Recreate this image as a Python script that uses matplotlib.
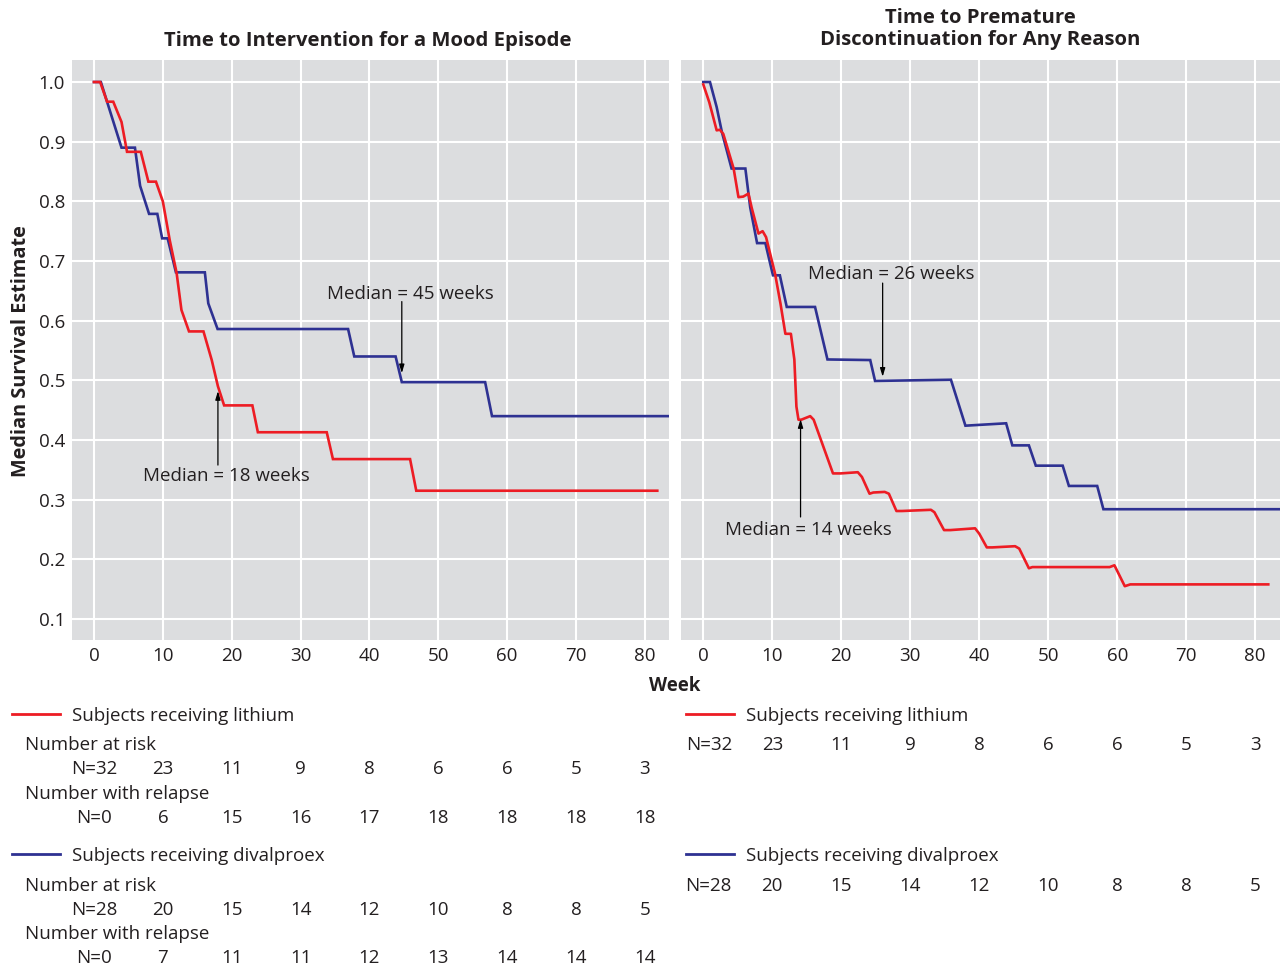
import matplotlib
matplotlib.use("Agg")
import matplotlib.pyplot as plt
import matplotlib.transforms as mtransforms

plt.rcParams['font.family'] = ['Open Sans', 'DejaVu Sans']

# ---------------- data ----------------
weeks_ticks = [0, 10, 20, 30, 40, 50, 60, 70, 80]
yticks = [0.1, 0.2, 0.3, 0.4, 0.5, 0.6, 0.7, 0.8, 0.9, 1.0]

# Left panel: time to intervention for a mood episode
li_mood_w = [0, 0.9, 1.9, 2.8, 4.0, 4.8, 6.8, 7.9, 9.0, 10.0, 11.0, 12.0, 12.7, 13.8,
             15.9, 17.1, 18.0, 18.9, 23.0, 23.8, 33.8, 34.7, 45.9, 46.8, 81.8]
li_mood_s = [1.0, 1.0, 0.967, 0.967, 0.933, 0.883, 0.883, 0.833, 0.833, 0.8, 0.735, 0.68,
             0.618, 0.582, 0.582, 0.534, 0.49, 0.458, 0.458, 0.413, 0.413, 0.368, 0.368,
             0.315, 0.315]
dv_mood_w = [0, 1.0, 4.0, 5.95, 6.7, 8.0, 9.2, 9.9, 10.7, 11.9, 16.1, 16.6, 17.95, 36.9,
             37.8, 43.8, 44.7, 56.8, 57.8, 83.5]
dv_mood_s = [1.0, 1.0, 0.89, 0.89, 0.826, 0.779, 0.779, 0.738, 0.738, 0.681, 0.681, 0.629,
             0.586, 0.586, 0.540, 0.540, 0.497, 0.497, 0.440, 0.440]

# Right panel: time to premature discontinuation
li_disc_w = [0, 0.87, 1.94, 2.4, 2.9, 4.4, 5.1, 5.8, 6.55, 7.0, 8.0, 8.6, 9.1, 10.4, 11.2,
             11.9, 12.7, 13.2, 13.5, 13.8, 14.2, 15.5, 16.0, 17.4, 18.8, 19.9, 22.4, 23.0,
             24.1, 24.65, 26.3, 26.9, 28.0, 28.8, 33.0, 33.5, 34.9, 35.8, 39.4, 40.0, 41.1,
             41.9, 45.2, 45.8, 47.2, 47.7, 58.9, 59.6, 60.2, 61.1, 61.9, 81.9]
li_disc_s = [0.996, 0.966, 0.919, 0.92, 0.913, 0.855, 0.807, 0.808, 0.813, 0.79, 0.746,
             0.75, 0.74, 0.679, 0.628, 0.578, 0.578, 0.535, 0.456, 0.434, 0.434, 0.44,
             0.434, 0.389, 0.344, 0.344, 0.346, 0.338, 0.31, 0.312, 0.313, 0.31, 0.281,
             0.281, 0.283, 0.279, 0.249, 0.249, 0.252, 0.243, 0.22, 0.22, 0.222, 0.218,
             0.185, 0.187, 0.187, 0.19, 0.176, 0.155, 0.158, 0.158]
dv_disc_w = [0, 0.97, 1.94, 2.7, 4.1, 6.1, 6.8, 7.8, 9.0, 10.1, 11.1, 12.1, 16.2, 18.0,
             24.2, 24.9, 35.9, 38.0, 43.9, 44.8, 47.2, 48.2, 52.1, 53.0, 57.1, 58.0, 83.6]
dv_disc_s = [1.0, 1.0, 0.958, 0.916, 0.855, 0.855, 0.79, 0.73, 0.73, 0.676, 0.676, 0.623,
             0.623, 0.535, 0.534, 0.499, 0.501, 0.424, 0.428, 0.391, 0.391, 0.357, 0.357,
             0.323, 0.323, 0.284, 0.284]

# Numbers table
li_risk = ["N=32", "23", "11", "9", "8", "6", "6", "5", "3"]
li_relapse = ["N=0", "6", "15", "16", "17", "18", "18", "18", "18"]
dv_risk = ["N=28", "20", "15", "14", "12", "10", "8", "8", "5"]
dv_relapse = ["N=0", "7", "11", "11", "12", "13", "14", "14", "14"]

# medians
median_mood = {"lithium": 18, "divalproex": 45}
median_disc = {"lithium": 14, "divalproex": 26}

# ---------------- style ----------------
RED = "#ed1c24"
BLUE = "#2e3192"
BG = "#dcdddf"
TXT = "#231f20"
FS = 13.5
FS_T = 14.6

fig = plt.figure(figsize=(12.8, 9.68), dpi=100)
W, H = 1280, 968


def ax_rect(x0, x1, y0, y1):
    return [x0 / W, 1 - y1 / H, (x1 - x0) / W, (y1 - y0) / H]


axL = fig.add_axes(ax_rect(72, 669, 60, 640))
axR = fig.add_axes(ax_rect(681, 1280, 60, 640))

for ax, xl in ((axL, (-3.19, 83.5)), (axR, (-3.23, 83.6))):
    ax.set_facecolor(BG)
    ax.set_xlim(*xl)
    ax.set_ylim(0.0648, 1.0369)
    ax.set_xticks(weeks_ticks)
    ax.set_yticks(yticks)
    ax.grid(True, color="white", linewidth=1.5)
    ax.set_axisbelow(True)
    for s in ax.spines.values():
        s.set_visible(False)
    ax.tick_params(length=0, labelsize=FS, labelcolor=TXT, pad=5)

axL.set_yticklabels([f"{v:.1f}" for v in yticks])
axR.set_yticklabels([])

lw = 1.9
axL.plot(dv_mood_w, dv_mood_s, color=BLUE, lw=lw, solid_joinstyle="miter")
axL.plot(li_mood_w, li_mood_s, color=RED, lw=lw, solid_joinstyle="miter")
axR.plot(dv_disc_w, dv_disc_s, color=BLUE, lw=lw, solid_joinstyle="miter")
axR.plot(li_disc_w, li_disc_s, color=RED, lw=lw, solid_joinstyle="round")

arrow = dict(arrowstyle="-|>,head_length=0.5,head_width=0.15", color="black", lw=0.9,
             shrinkA=0, shrinkB=0)

# annotations
axL.annotate("", xy=(median_mood["divalproex"] - 0.3, 0.512),
             xytext=(median_mood["divalproex"] - 0.3, 0.632), arrowprops=arrow)
axL.text(46.0, 0.645, f"Median = {median_mood['divalproex']} weeks", ha="center", va="center",
         fontsize=FS, color=TXT)
axL.annotate("", xy=(median_mood["lithium"], 0.482),
             xytext=(median_mood["lithium"], 0.358), arrowprops=arrow)
axL.text(19.2, 0.339, f"Median = {median_mood['lithium']} weeks", ha="center", va="center",
         fontsize=FS, color=TXT)

axR.annotate("", xy=(median_disc["divalproex"], 0.506),
             xytext=(median_disc["divalproex"], 0.663), arrowprops=arrow)
axR.text(27.3, 0.678, f"Median = {median_disc['divalproex']} weeks", ha="center", va="center",
         fontsize=FS, color=TXT)
axR.annotate("", xy=(median_disc["lithium"] + 0.1, 0.435),
             xytext=(median_disc["lithium"] + 0.1, 0.271), arrowprops=arrow)
axR.text(15.3, 0.250, f"Median = {median_disc['lithium']} weeks", ha="center", va="center",
         fontsize=FS, color=TXT)

# titles and labels
fig.text(368 / W, 1 - 41 / H, "Time to Intervention for a Mood Episode", ha="center",
         va="center", fontsize=FS_T, fontweight="bold", color=TXT)
fig.text(980 / W, 1 - 29 / H, "Time to Premature\nDiscontinuation for Any Reason", ha="center",
         va="center", fontsize=FS_T, fontweight="bold", color=TXT, linespacing=1.15)
fig.text(21 / W, 1 - 351 / H, "Median Survival Estimate", rotation=90, ha="center", va="center",
         fontsize=14.3, fontweight="bold", color=TXT)
fig.text(675 / W, 1 - 686 / H, "Week", ha="center", va="center", fontsize=FS,
         fontweight="bold", color=TXT)


# ---------------- number-at-risk table ----------------
def fy(py):
    return 1 - (py + 2) / H


def row_values(ax, vals, py, first_shift=0.0):
    tr = mtransforms.blended_transform_factory(ax.transData, fig.transFigure)
    for i, (w, v) in enumerate(zip(weeks_ticks, vals)):
        x = w + (first_shift if i == 0 else 0)
        fig.text(x, fy(py), v, transform=tr, ha="center", va="center", fontsize=FS, color=TXT)


def legend_line(x0, x1, py, color, label):
    fig.add_artist(plt.Line2D([x0 / W, x1 / W], [1 - py / H, 1 - py / H], color=color, lw=2.0,
                              transform=fig.transFigure))
    fig.text((x1 + 12) / W, fy(py), label, ha="left", va="center", fontsize=FS, color=TXT)


# Left block
legend_line(12, 60, 714, RED, "Subjects receiving lithium")
fig.text(25 / W, fy(743), "Number at risk", ha="left", va="center", fontsize=FS, color=TXT)
row_values(axL, li_risk, 767)
fig.text(25 / W, fy(792), "Number with relapse", ha="left", va="center", fontsize=FS, color=TXT)
row_values(axL, li_relapse, 816)
legend_line(12, 60, 854, BLUE, "Subjects receiving divalproex")
fig.text(25 / W, fy(884), "Number at risk", ha="left", va="center", fontsize=FS, color=TXT)
row_values(axL, dv_risk, 908)
fig.text(25 / W, fy(932), "Number with relapse", ha="left", va="center", fontsize=FS, color=TXT)
row_values(axL, dv_relapse, 956)

# Right block
legend_line(686, 734, 714, RED, "Subjects receiving lithium")
row_values(axR, li_risk, 743, first_shift=0.8)
legend_line(686, 734, 854, BLUE, "Subjects receiving divalproex")
row_values(axR, dv_risk, 884, first_shift=0.8)

fig.savefig("out.png", dpi=100, facecolor="white")
